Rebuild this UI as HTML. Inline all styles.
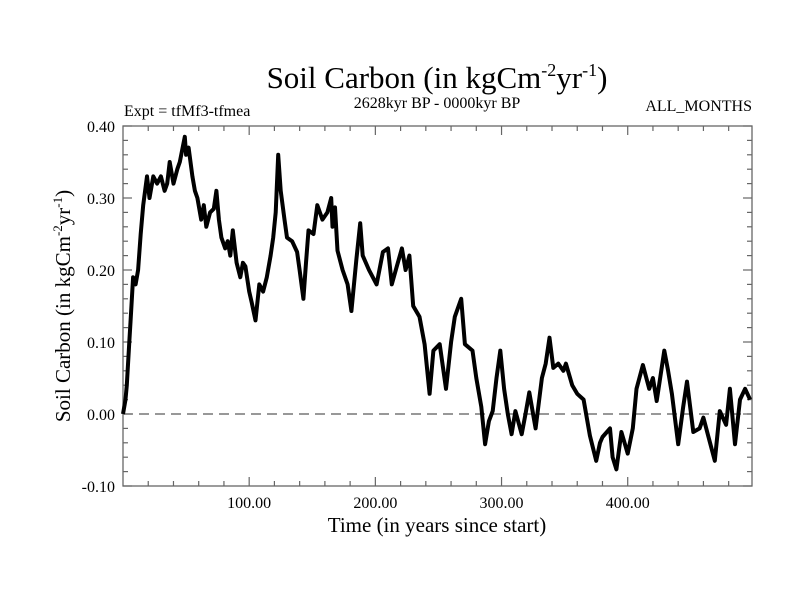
<!DOCTYPE html>
<html><head><meta charset="utf-8"><style>
html,body{margin:0;padding:0;background:#fff;}
svg text{font-family:"Liberation Serif",serif;fill:#000;}
</style></head><body>
<svg id="chart" width="800" height="600">
<text x="437" y="88" font-size="31" text-anchor="middle">Soil Carbon (in kgCm<tspan font-size="18" dy="-12">-2</tspan><tspan dy="12">yr</tspan><tspan font-size="18" dy="-12">-1</tspan><tspan dy="12">)</tspan></text>
<text x="437" y="108" font-size="16" text-anchor="middle">2628kyr BP - 0000kyr BP</text>
<text x="124" y="116" font-size="16">Expt = tfMf3-tfmea</text>
<text x="752" y="111" font-size="16" text-anchor="end">ALL_MONTHS</text>
<text x="437" y="532" font-size="21" text-anchor="middle">Time (in years since start)</text>
<text transform="translate(70,306) rotate(-90)" font-size="21" text-anchor="middle">Soil Carbon (in kgCm<tspan font-size="13" dy="-8">-2</tspan><tspan dy="8">yr</tspan><tspan font-size="13" dy="-8">-1</tspan><tspan dy="8">)</tspan></text>
<g id="axes"></g>
<g id="plot"></g>
</svg>
<script>
const years=[0,2,3,5,6,8,10,12,14,16,19,21,24,27,30,33,35,37,40,43,45,49,50,52,55,57,59,62,64,66,69,72,74,76,78,81,83,85,87,90,93,95,97,100,102,105,108,111,114,117,119,121,123,125,128,130,134,138,140,143,145,147,151,154,158,162,165,166,168,170,174,178,181,185,188,190,195,201,206,210,213,217,221,224,227,230,235,239,243,246,251,256,260,263,268,271,277,280,284,287,290,293,296,299,302,305,308,311,316,319,322,327,332,335,338,341,345,349,351,356,360,365,370,375,378,380,386,388,391,395,400,404,407,412,417,420,423,429,432,435,440,444,447,452,457,460,464,469,473,478,481,485,489,493,497];
const values=[0.0,0.02,0.04,0.10,0.13,0.19,0.18,0.20,0.25,0.29,0.33,0.30,0.33,0.32,0.33,0.31,0.32,0.35,0.32,0.34,0.35,0.385,0.36,0.37,0.33,0.31,0.30,0.27,0.29,0.26,0.28,0.285,0.31,0.27,0.245,0.23,0.24,0.22,0.255,0.21,0.19,0.21,0.205,0.17,0.155,0.13,0.18,0.17,0.19,0.22,0.245,0.28,0.36,0.31,0.27,0.245,0.24,0.225,0.20,0.16,0.21,0.255,0.25,0.29,0.27,0.28,0.30,0.26,0.287,0.227,0.20,0.18,0.143,0.215,0.265,0.22,0.20,0.18,0.225,0.23,0.18,0.205,0.23,0.20,0.22,0.15,0.135,0.097,0.028,0.088,0.097,0.035,0.10,0.135,0.16,0.097,0.088,0.05,0.01,-0.042,-0.01,0.004,0.05,0.088,0.035,0.0,-0.028,0.004,-0.028,0.0,0.03,-0.02,0.05,0.07,0.106,0.064,0.07,0.06,0.07,0.04,0.028,0.02,-0.03,-0.065,-0.04,-0.032,-0.02,-0.06,-0.077,-0.025,-0.055,-0.02,0.035,0.068,0.035,0.05,0.018,0.088,0.06,0.028,-0.042,0.01,0.045,-0.025,-0.02,-0.005,-0.032,-0.065,0.004,-0.015,0.035,-0.042,0.02,0.035,0.02];
const xTicks=[100,200,300,400];
const xTickLabels=["100.00","200.00","300.00","400.00"];
const yTicks=[-0.1,0,0.1,0.2,0.3,0.4];
const yTickLabels=["-0.10","0.00","0.10","0.20","0.30","0.40"];

const L=123,R=752,T=126,B=486,X0=0,X1=498.5,Y0=-0.1,Y1=0.4;
const sx=v=>L+(v-X0)/(X1-X0)*(R-L);
const sy=v=>B-(v-Y0)/(Y1-Y0)*(B-T);
const NS="http://www.w3.org/2000/svg";
const axes=document.getElementById('axes'),plot=document.getElementById('plot');
function mk(tag,attrs,parent){const e=document.createElementNS(NS,tag);for(const k in attrs)e.setAttribute(k,attrs[k]);parent.appendChild(e);return e;}

const frame=mk('rect',{x:L,y:T,width:R-L,height:B-T,fill:'none',stroke:'#666','stroke-width':1.3},axes);



for(let v=20;v<X1;v+=20){
  const major=v%100===0,len=major?9:5,x=sx(v);
  const t1=mk('line',{x1:x,x2:x,y1:B,y2:B-len,stroke:'#666','stroke-width':1.2},axes);
  
  
  const t2=mk('line',{x1:x,x2:x,y1:T,y2:T+len,stroke:'#666','stroke-width':1.2},axes);
  
  
}
xTicks.forEach((v,i)=>{
  const t=mk('text',{x:sx(v),y:B+22,'font-size':16,'text-anchor':'middle'},axes);
  t.textContent=xTickLabels[i];
  
  
});
for(let k=-5;k<=20;k++){
  const v=k*0.02,major=k%5===0,len=major?9:5,y=sy(v);
  const t1=mk('line',{x1:L,x2:L+len,y1:y,y2:y,stroke:'#666','stroke-width':1.2},axes);
  
  
  const t2=mk('line',{x1:R,x2:R-len,y1:y,y2:y,stroke:'#666','stroke-width':1.2},axes);
  
  
}
yTicks.forEach((v,i)=>{
  const t=mk('text',{x:L-8,y:sy(v)+6,'font-size':16,'text-anchor':'end'},axes);
  t.textContent=yTickLabels[i];
  
  
});
const zero=mk('line',{x1:L,x2:R,y1:sy(0),y2:sy(0),stroke:'#777','stroke-width':1.6,'stroke-dasharray':'10,6'},plot);


const pts=years.map((y,i)=>sx(y).toFixed(1)+','+sy(values[i]).toFixed(1)).join(' ');
const line=mk('polyline',{points:pts,fill:'none',stroke:'#000','stroke-width':4,'stroke-linejoin':'round'},plot);


</script>
</body></html>
